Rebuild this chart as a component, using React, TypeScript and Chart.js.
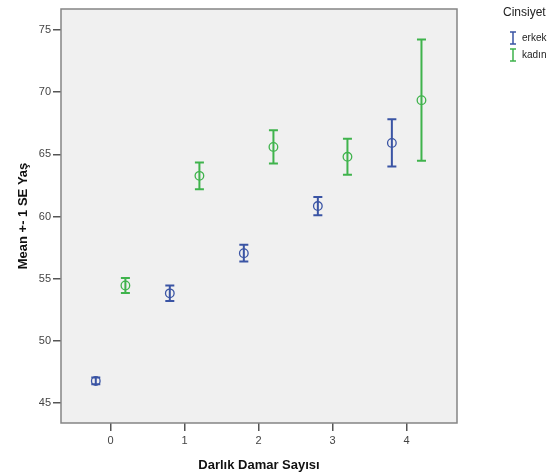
import React, { useEffect, useRef } from 'react';
import { Chart, registerables } from 'chart.js';

Chart.register(...registerables);

// ---- data ----
const categories = [0, 1, 2, 3, 4];
const groupNames = ['erkek', 'kadın'];
const erkekMean = [46.77, 53.82, 57.05, 60.84, 65.92];
const erkekSE = [0.27, 0.62, 0.67, 0.73, 1.9];
const kadinMean = [54.45, 63.27, 65.6, 64.8, 69.36];
const kadinSE = [0.6, 1.08, 1.34, 1.45, 4.88];
const groupOffset = [-0.2, 0.2];
const xTicks = [0, 1, 2, 3, 4];
const yTicks = [45, 50, 55, 60, 65, 70, 75];

const BLUE = '#3a54a4';
const GREEN = '#3fb34c';
const FONT = '"Liberation Sans", Arial, sans-serif';

const errorBarPlugin = {
  id: 'errorBars',
  beforeDraw(chart: any) {
    const { ctx, chartArea: a } = chart;
    ctx.save();
    ctx.fillStyle = '#f0f0f0';
    ctx.fillRect(a.left, a.top, a.right - a.left, a.bottom - a.top);
    ctx.restore();
  },
  afterDatasetsDraw(chart: any) {
    const { ctx, chartArea: a } = chart;
    const ys = chart.scales.y;
    chart.data.datasets.forEach((ds: any, i: number) => {
      const meta = chart.getDatasetMeta(i);
      meta.data.forEach((pt: any, j: number) => {
        const m = ds.data[j].y;
        const top = ys.getPixelForValue(m + ds.se[j]);
        const bot = ys.getPixelForValue(m - ds.se[j]);
        ctx.save();
        ctx.strokeStyle = ds.borderColor;
        ctx.lineWidth = 2;
        ctx.beginPath();
        ctx.moveTo(pt.x, top);
        ctx.lineTo(pt.x, bot);
        ctx.moveTo(pt.x - 4.5, top);
        ctx.lineTo(pt.x + 4.5, top);
        ctx.moveTo(pt.x - 4.5, bot);
        ctx.lineTo(pt.x + 4.5, bot);
        ctx.stroke();
        ctx.restore();
      });
    });
    // frame
    ctx.save();
    ctx.strokeStyle = '#858585';
    ctx.lineWidth = 1.5;
    ctx.strokeRect(a.left, a.top, a.right - a.left, a.bottom - a.top);
    ctx.restore();
  },
  afterDraw(chart: any) {
    const { ctx } = chart;
    ctx.save();
    ctx.fillStyle = '#222';
    ctx.textBaseline = 'middle';
    ctx.font = `12px ${FONT}`;
    ctx.fillText('Cinsiyet', 503, 13);
    const colors = [BLUE, GREEN];
    const ys = [38, 55];
    ctx.font = `10px ${FONT}`;
    groupNames.forEach((name, k) => {
      const cy = ys[k];
      ctx.strokeStyle = colors[k];
      ctx.lineWidth = 1.5;
      ctx.beginPath();
      ctx.moveTo(513, cy - 6);
      ctx.lineTo(513, cy + 6);
      ctx.moveTo(510, cy - 6);
      ctx.lineTo(516, cy - 6);
      ctx.moveTo(510, cy + 6);
      ctx.lineTo(516, cy + 6);
      ctx.stroke();
      ctx.fillStyle = '#222';
      ctx.fillText(name, 522, cy);
    });
    ctx.restore();
  },
};

export default function App() {
  const ref = useRef<HTMLCanvasElement>(null);
  useEffect(() => {
    document.body.style.margin = '0';
    const means = [erkekMean, kadinMean];
    const ses = [erkekSE, kadinSE];
    const colors = [BLUE, GREEN];
    const chart = new Chart(ref.current!, {
      type: 'scatter',
      data: {
        datasets: groupNames.map((name, k) => ({
          label: name,
          data: categories.map((c, j) => ({ x: c + groupOffset[k], y: means[k][j] })),
          se: ses[k],
          borderColor: colors[k],
          backgroundColor: 'rgba(0,0,0,0)',
          pointRadius: 4.3,
          pointBorderWidth: 1.3,
          pointStyle: 'circle',
        })) as any,
      },
      options: {
        animation: false,
        responsive: false,
        layout: { padding: { left: 0, right: 92, top: 9, bottom: 0 } },
        plugins: { legend: { display: false }, tooltip: { enabled: false } },
        scales: {
          x: {
            type: 'linear',
            min: -0.67,
            max: 4.68,
            afterBuildTicks: (s: any) => {
              s.ticks = xTicks.map((v) => ({ value: v }));
            },
            afterFit: (s: any) => {
              s.height = 51;
            },
            grid: { drawOnChartArea: false, drawTicks: true, tickLength: 8, color: '#555', lineWidth: 1.5 },
            border: { display: false },
            ticks: { font: { size: 11, family: FONT }, color: '#444', padding: 3 },
            title: {
              display: true,
              text: 'Darlık Damar Sayısı',
              font: { size: 13, weight: 'bold', family: FONT },
              color: '#111',
              padding: { top: 0, bottom: 1 },
            },
          },
          y: {
            type: 'linear',
            min: 43.39,
            max: 76.69,
            afterBuildTicks: (s: any) => {
              s.ticks = yTicks.map((v) => ({ value: v }));
            },
            afterFit: (s: any) => {
              s.width = 61;
            },
            grid: { drawOnChartArea: false, drawTicks: true, tickLength: 8, color: '#555', lineWidth: 1.5 },
            border: { display: false },
            ticks: { font: { size: 11, family: FONT }, color: '#444', padding: 2 },
            title: {
              display: true,
              text: 'Mean +- 1 SE Yaş',
              font: { size: 13, weight: 'bold', family: FONT },
              color: '#111',
              padding: { top: 16, bottom: 0 },
            },
          },
        },
      },
      plugins: [errorBarPlugin],
    });
    return () => chart.destroy();
  }, []);
  return <canvas ref={ref} width={549} height={474} style={{ display: 'block' }} />;
}
